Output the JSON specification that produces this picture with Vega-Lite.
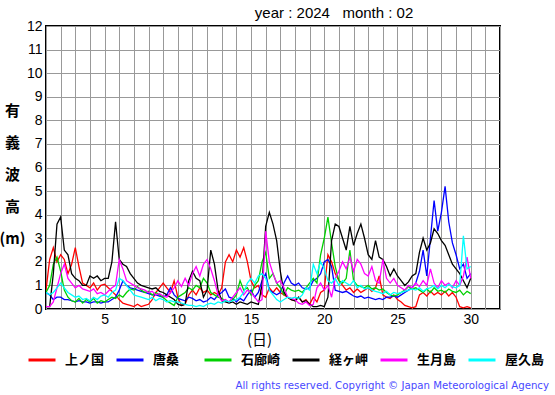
{
  "$schema": "https://vega.github.io/schema/vega-lite/v6.json",
  "width": 454,
  "height": 283,
  "autosize": {"type": "none"},
  "padding": {"left": 46, "top": 26, "right": 55, "bottom": 86},
  "background": "white",
  "config": {
    "view": {"stroke": "black", "strokeWidth": 2},
    "font": "Liberation Sans"
  },
  "title": {
    "text": "All rights reserved. Copyright © Japan Meteorological Agency",
    "orient": "bottom",
    "anchor": "end",
    "frame": "group",
    "dx": 49,
    "offset": 14,
    "font": "DejaVu Sans",
    "fontSize": 10.2,
    "fontWeight": "normal",
    "color": "#4848ff"
  },
  "data": {
    "values": [
      {"d":1.0,"上ノ国":0.8,"唐桑":0.7,"石廊崎":0.7,"経ヶ岬":0.1,"生月島":0.1,"屋久島":0.7},
      {"d":1.25,"上ノ国":2.1,"唐桑":0.6,"石廊崎":1.0,"経ヶ岬":0.1,"生月島":0.1,"屋久島":0.6},
      {"d":1.5,"上ノ国":2.6,"唐桑":0.4,"石廊崎":1.9,"経ヶ岬":1.5,"生月島":0.3,"屋久島":0.7},
      {"d":1.75,"上ノ国":2.0,"唐桑":0.5,"石廊崎":2.2,"経ヶ岬":3.6,"生月島":0.9,"屋久島":0.9},
      {"d":2.0,"上ノ国":2.3,"唐桑":0.5,"石廊崎":1.6,"経ヶ岬":3.9,"生月島":1.5,"屋久島":1.1},
      {"d":2.25,"上ノ国":2.1,"唐桑":0.4,"石廊崎":0.8,"経ヶ岬":2.5,"生月島":1.9,"屋久島":0.9},
      {"d":2.5,"上ノ国":1.5,"唐桑":0.4,"石廊崎":0.5,"経ヶ岬":2.3,"生月島":1.3,"屋久島":0.7},
      {"d":2.75,"上ノ国":1.9,"唐桑":0.35,"石廊崎":0.35,"経ヶ岬":1.5,"生月島":1.1,"屋久島":0.6},
      {"d":3.0,"上ノ国":2.6,"唐桑":0.3,"石廊崎":0.3,"経ヶ岬":1.3,"生月島":0.9,"屋久島":0.5},
      {"d":3.25,"上ノ国":1.8,"唐桑":0.35,"石廊崎":0.45,"経ヶ岬":1.2,"生月島":1.0,"屋久島":0.55},
      {"d":3.5,"上ノ国":1.1,"唐桑":0.3,"石廊崎":0.25,"経ヶ岬":1.0,"生月島":0.85,"屋久島":0.4},
      {"d":3.75,"上ノ国":1.0,"唐桑":0.3,"石廊崎":0.4,"経ヶ岬":1.0,"生月島":0.8,"屋久島":0.45},
      {"d":4.0,"上ノ国":0.9,"唐桑":0.25,"石廊崎":0.3,"経ヶ岬":1.4,"生月島":0.75,"屋久島":0.35},
      {"d":4.25,"上ノ国":1.1,"唐桑":0.3,"石廊崎":0.45,"経ヶ岬":1.3,"生月島":0.85,"屋久島":0.5},
      {"d":4.5,"上ノ国":0.8,"唐桑":0.3,"石廊崎":0.25,"経ヶ岬":1.4,"生月島":0.65,"屋久島":0.4},
      {"d":4.75,"上ノ国":1.0,"唐桑":0.25,"石廊崎":0.35,"経ヶ岬":1.2,"生月島":0.7,"屋久島":0.55},
      {"d":5.0,"上ノ国":1.05,"唐桑":0.3,"石廊崎":0.3,"経ヶ岬":1.3,"生月島":0.6,"屋久島":0.6},
      {"d":5.25,"上ノ国":0.9,"唐桑":0.3,"石廊崎":0.4,"経ヶ岬":1.3,"生月島":0.75,"屋久島":0.5},
      {"d":5.5,"上ノ国":0.75,"唐桑":0.4,"石廊崎":0.5,"経ヶ岬":2.0,"生月島":0.9,"屋久島":0.7},
      {"d":5.75,"上ノ国":0.6,"唐桑":0.5,"石廊崎":0.45,"経ヶ岬":3.7,"生月島":1.0,"屋久島":0.8},
      {"d":6.0,"上ノ国":0.4,"唐桑":0.8,"石廊崎":0.6,"経ヶ岬":2.1,"生月島":2.1,"屋久島":1.3},
      {"d":6.25,"上ノ国":0.25,"唐桑":1.2,"石廊崎":0.5,"経ヶ岬":1.9,"生月島":1.7,"屋久島":1.2},
      {"d":6.5,"上ノ国":0.2,"唐桑":1.0,"石廊崎":0.7,"経ヶ岬":1.8,"生月島":1.2,"屋久島":1.0},
      {"d":6.75,"上ノ国":0.15,"唐桑":0.9,"石廊崎":0.85,"経ヶ岬":1.5,"生月島":1.1,"屋久島":0.8},
      {"d":7.0,"上ノ国":0.1,"唐桑":0.85,"石廊崎":0.8,"経ヶ岬":1.3,"生月島":1.0,"屋久島":0.6},
      {"d":7.25,"上ノ国":0.2,"唐桑":0.8,"石廊崎":0.95,"経ヶ岬":1.1,"生月島":0.9,"屋久島":0.55},
      {"d":7.5,"上ノ国":0.1,"唐桑":0.75,"石廊崎":0.8,"経ヶ岬":1.0,"生月島":0.85,"屋久島":0.5},
      {"d":7.75,"上ノ国":0.15,"唐桑":0.7,"石廊崎":0.7,"経ヶ岬":0.95,"生月島":0.8,"屋久島":0.45},
      {"d":8.0,"上ノ国":0.2,"唐桑":0.65,"石廊崎":0.75,"経ヶ岬":0.9,"生月島":0.7,"屋久島":0.4},
      {"d":8.25,"上ノ国":0.4,"唐桑":0.6,"石廊崎":0.6,"経ヶ岬":0.85,"生月島":0.75,"屋久島":0.5},
      {"d":8.5,"上ノ国":0.7,"唐桑":0.6,"石廊崎":0.7,"経ヶ岬":0.9,"生月島":0.6,"屋久島":0.35},
      {"d":8.75,"上ノ国":0.9,"唐桑":0.55,"石廊崎":0.6,"経ヶ岬":0.75,"生月島":0.65,"屋久島":0.45},
      {"d":9.0,"上ノ国":1.1,"唐桑":0.5,"石廊崎":0.5,"経ヶ岬":0.7,"生月島":0.55,"屋久島":0.4},
      {"d":9.25,"上ノ国":0.9,"唐桑":0.6,"石廊崎":0.35,"経ヶ岬":0.6,"生月島":0.5,"屋久島":0.3},
      {"d":9.5,"上ノ国":0.7,"唐桑":0.9,"石廊崎":0.25,"経ヶ岬":0.5,"生月島":0.7,"屋久島":0.35},
      {"d":9.75,"上ノ国":1.2,"唐桑":0.6,"石廊崎":0.15,"経ヶ岬":0.4,"生月島":0.9,"屋久島":0.3},
      {"d":10.0,"上ノ国":0.5,"唐桑":0.45,"石廊崎":0.5,"経ヶ岬":0.2,"生月島":1.2,"屋久島":0.3},
      {"d":10.25,"上ノ国":0.15,"唐桑":0.4,"石廊崎":0.6,"経ヶ岬":0.15,"生月島":0.95,"屋久島":0.25},
      {"d":10.5,"上ノ国":0.2,"唐桑":0.35,"石廊崎":0.7,"経ヶ岬":0.2,"生月島":1.3,"屋久島":0.2},
      {"d":10.75,"上ノ国":0.6,"唐桑":0.5,"石廊崎":0.9,"経ヶ岬":1.2,"生月島":1.0,"屋久島":0.15},
      {"d":11.0,"上ノ国":0.8,"唐桑":0.45,"石廊崎":0.8,"経ヶ岬":1.6,"生月島":1.5,"屋久島":0.15},
      {"d":11.25,"上ノ国":0.6,"唐桑":0.35,"石廊崎":1.0,"経ヶ岬":1.3,"生月島":1.8,"屋久島":0.1},
      {"d":11.5,"上ノ国":0.9,"唐桑":0.4,"石廊崎":0.9,"経ヶ岬":1.2,"生月島":1.4,"屋久島":0.15},
      {"d":11.75,"上ノ国":0.7,"唐桑":0.3,"石廊崎":1.3,"経ヶ岬":0.5,"生月島":1.9,"屋久島":0.1},
      {"d":12.0,"上ノ国":0.8,"唐桑":0.35,"石廊崎":1.1,"経ヶ岬":0.8,"生月島":2.1,"屋久島":0.2},
      {"d":12.25,"上ノ国":0.6,"唐桑":0.5,"石廊崎":0.7,"経ヶ岬":2.5,"生月島":1.7,"屋久島":0.25},
      {"d":12.5,"上ノ国":0.7,"唐桑":0.4,"石廊崎":0.6,"経ヶ岬":1.9,"生月島":1.2,"屋久島":0.2},
      {"d":12.75,"上ノ国":0.6,"唐桑":0.6,"石廊崎":0.5,"経ヶ岬":0.8,"生月島":0.6,"屋久島":0.3},
      {"d":13.0,"上ノ国":0.9,"唐桑":0.7,"石廊崎":0.45,"経ヶ岬":0.35,"生月島":0.35,"屋久島":0.25},
      {"d":13.25,"上ノ国":2.0,"唐桑":0.85,"石廊崎":0.35,"経ヶ岬":0.3,"生月島":0.4,"屋久島":0.35},
      {"d":13.5,"上ノ国":2.3,"唐桑":0.5,"石廊崎":0.3,"経ヶ岬":0.25,"生月島":0.3,"屋久島":0.3},
      {"d":13.75,"上ノ国":2.0,"唐桑":0.45,"石廊崎":0.4,"経ヶ岬":0.3,"生月島":0.5,"屋久島":0.35},
      {"d":14.0,"上ノ国":2.5,"唐桑":0.3,"石廊崎":0.6,"経ヶ岬":0.2,"生月島":0.7,"屋久島":0.4},
      {"d":14.25,"上ノ国":2.2,"唐桑":0.45,"石廊崎":1.2,"経ヶ岬":0.3,"生月島":0.9,"屋久島":0.5},
      {"d":14.5,"上ノ国":2.6,"唐桑":0.35,"石廊崎":0.8,"経ヶ岬":0.25,"生月島":0.6,"屋久島":0.7},
      {"d":14.75,"上ノ国":2.0,"唐桑":0.6,"石廊崎":0.9,"経ヶ岬":0.2,"生月島":0.8,"屋久島":1.1},
      {"d":15.0,"上ノ国":1.2,"唐桑":0.8,"石廊崎":0.6,"経ヶ岬":0.3,"生月島":0.7,"屋久島":1.3},
      {"d":15.25,"上ノ国":0.9,"唐桑":0.5,"石廊崎":1.0,"経ヶ岬":0.25,"生月島":0.5,"屋久島":1.1},
      {"d":15.5,"上ノ国":1.0,"唐桑":0.7,"石廊崎":1.2,"経ヶ岬":0.2,"生月島":0.3,"屋久島":1.4},
      {"d":15.75,"上ノ国":0.6,"唐桑":1.2,"石廊崎":2.0,"経ヶ岬":1.0,"生月島":0.4,"屋久島":1.5},
      {"d":16.0,"上ノ国":0.5,"唐桑":1.5,"石廊崎":2.4,"経ヶ岬":3.5,"生月島":3.3,"屋久島":1.3},
      {"d":16.25,"上ノ国":0.9,"唐桑":0.8,"石廊崎":1.3,"経ヶ岬":4.1,"生月島":2.0,"屋久島":0.8},
      {"d":16.5,"上ノ国":0.7,"唐桑":0.7,"石廊崎":1.5,"経ヶ岬":3.6,"生月島":1.5,"屋久島":0.6},
      {"d":16.75,"上ノ国":0.9,"唐桑":0.6,"石廊崎":1.1,"経ヶ岬":2.9,"生月島":1.1,"屋久島":0.4},
      {"d":17.0,"上ノ国":0.7,"唐桑":0.7,"石廊崎":0.9,"経ヶ岬":1.6,"生月島":1.2,"屋久島":0.3},
      {"d":17.25,"上ノ国":0.6,"唐桑":1.1,"石廊崎":0.6,"経ヶ岬":0.7,"生月島":0.9,"屋久島":0.4},
      {"d":17.5,"上ノ国":0.5,"唐桑":1.4,"石廊崎":0.9,"経ヶ岬":0.5,"生月島":0.5,"屋久島":0.5},
      {"d":17.75,"上ノ国":0.4,"唐桑":1.1,"石廊崎":0.8,"経ヶ岬":0.4,"生月島":0.45,"屋久島":0.45},
      {"d":18.0,"上ノ国":0.35,"唐桑":1.0,"石廊崎":0.75,"経ヶ岬":0.35,"生月島":0.4,"屋久島":0.5},
      {"d":18.25,"上ノ国":0.5,"唐桑":1.1,"石廊崎":0.8,"経ヶ岬":0.5,"生月島":0.25,"屋久島":0.45},
      {"d":18.5,"上ノ国":0.3,"唐桑":0.9,"石廊崎":0.7,"経ヶ岬":0.3,"生月島":0.2,"屋久島":0.6},
      {"d":18.75,"上ノ国":0.4,"唐桑":0.85,"石廊崎":0.9,"経ヶ岬":0.35,"生月島":0.3,"屋久島":0.9},
      {"d":19.0,"上ノ国":0.2,"唐桑":0.9,"石廊崎":1.1,"経ヶ岬":0.2,"生月島":0.15,"屋久島":0.8},
      {"d":19.25,"上ノ国":0.5,"唐桑":1.2,"石廊崎":1.3,"経ヶ岬":0.1,"生月島":0.2,"屋久島":1.9},
      {"d":19.5,"上ノ国":0.3,"唐桑":1.3,"石廊崎":1.1,"経ヶ岬":0.1,"生月島":0.9,"屋久島":1.5},
      {"d":19.75,"上ノ国":0.7,"唐桑":1.5,"石廊崎":2.3,"経ヶ岬":0.15,"生月島":1.1,"屋久島":2.0},
      {"d":20.0,"上ノ国":0.8,"唐桑":2.0,"石廊崎":3.0,"経ヶ岬":0.1,"生月島":0.8,"屋久島":1.7},
      {"d":20.25,"上ノ国":2.3,"唐桑":2.1,"石廊崎":3.9,"経ヶ岬":0.5,"生月島":1.0,"屋久島":1.2},
      {"d":20.5,"上ノ国":2.0,"唐桑":1.8,"石廊崎":2.8,"経ヶ岬":2.9,"生月島":0.5,"屋久島":1.1},
      {"d":20.75,"上ノ国":1.5,"唐桑":0.8,"石廊崎":1.8,"経ヶ岬":3.6,"生月島":1.3,"屋久島":1.3},
      {"d":21.0,"上ノ国":1.2,"唐桑":0.75,"石廊崎":1.2,"経ヶ岬":3.5,"生月島":1.6,"屋久島":1.0},
      {"d":21.25,"上ノ国":1.0,"唐桑":0.7,"石廊崎":1.1,"経ヶ岬":3.0,"生月島":2.0,"屋久島":1.2},
      {"d":21.5,"上ノ国":0.8,"唐桑":0.75,"石廊崎":1.3,"経ヶ岬":2.5,"生月島":1.7,"屋久島":1.1},
      {"d":21.75,"上ノ国":0.9,"唐桑":0.65,"石廊崎":2.5,"経ヶ岬":3.5,"生月島":2.2,"屋久島":1.0},
      {"d":22.0,"上ノ国":0.7,"唐桑":0.55,"石廊崎":1.2,"経ヶ岬":2.7,"生月島":1.6,"屋久島":1.2},
      {"d":22.25,"上ノ国":0.85,"唐桑":0.5,"石廊崎":1.0,"経ヶ岬":3.2,"生月島":2.1,"屋久島":0.9},
      {"d":22.5,"上ノ国":0.7,"唐桑":0.55,"石廊崎":0.95,"経ヶ岬":3.6,"生月島":1.9,"屋久島":1.0},
      {"d":22.75,"上ノ国":0.8,"唐桑":0.45,"石廊崎":0.9,"経ヶ岬":3.0,"生月島":1.5,"屋久島":0.85},
      {"d":23.0,"上ノ国":0.9,"唐桑":0.5,"石廊崎":1.0,"経ヶ岬":2.3,"生月島":1.4,"屋久島":0.9},
      {"d":23.25,"上ノ国":0.75,"唐桑":0.45,"石廊崎":0.85,"経ヶ岬":2.1,"生月島":1.8,"屋久島":0.8},
      {"d":23.5,"上ノ国":0.9,"唐桑":0.4,"石廊崎":0.9,"経ヶ岬":2.9,"生月島":1.2,"屋久島":0.75},
      {"d":23.75,"上ノ国":1.4,"唐桑":0.45,"石廊崎":0.8,"経ヶ岬":2.2,"生月島":1.1,"屋久島":0.7},
      {"d":24.0,"上ノ国":0.6,"唐桑":0.4,"石廊崎":0.85,"経ヶ岬":2.1,"生月島":2.1,"屋久島":0.65},
      {"d":24.25,"上ノ国":0.5,"唐桑":0.5,"石廊崎":0.7,"経ヶ岬":1.8,"生月島":1.3,"屋久島":0.75},
      {"d":24.5,"上ノ国":0.45,"唐桑":0.5,"石廊崎":0.6,"経ヶ岬":1.4,"生月島":1.1,"屋久島":0.6},
      {"d":24.75,"上ノ国":0.6,"唐桑":0.55,"石廊崎":0.55,"経ヶ岬":1.7,"生月島":1.3,"屋久島":0.7},
      {"d":25.0,"上ノ国":0.4,"唐桑":0.5,"石廊崎":0.6,"経ヶ岬":1.4,"生月島":1.0,"屋久島":0.65},
      {"d":25.25,"上ノ国":0.3,"唐桑":0.6,"石廊崎":0.7,"経ヶ岬":1.2,"生月島":0.9,"屋久島":0.7},
      {"d":25.5,"上ノ国":0.15,"唐桑":0.7,"石廊崎":0.8,"経ヶ岬":1.0,"生月島":0.8,"屋久島":0.75},
      {"d":25.75,"上ノ国":0.1,"唐桑":0.8,"石廊崎":0.95,"経ヶ岬":1.15,"生月島":1.0,"屋久島":0.8},
      {"d":26.0,"上ノ国":0.05,"唐桑":0.9,"石廊崎":0.85,"経ヶ岬":1.4,"生月島":0.9,"屋久島":0.85},
      {"d":26.25,"上ノ国":0.1,"唐桑":1.1,"石廊崎":0.9,"経ヶ岬":1.5,"生月島":1.1,"屋久島":0.8},
      {"d":26.5,"上ノ国":0.6,"唐桑":1.6,"石廊崎":0.8,"経ヶ岬":2.4,"生月島":0.95,"屋久島":0.9},
      {"d":26.75,"上ノ国":0.7,"唐桑":2.5,"石廊崎":0.7,"経ヶ岬":3.0,"生月島":1.2,"屋久島":0.75},
      {"d":27.0,"上ノ国":0.55,"唐桑":1.4,"石廊崎":0.85,"経ヶ岬":2.5,"生月島":1.0,"屋久島":0.85},
      {"d":27.25,"上ノ国":0.75,"唐桑":3.0,"石廊崎":0.7,"経ヶ岬":2.8,"生月島":1.7,"屋久島":0.9},
      {"d":27.5,"上ノ国":0.6,"唐桑":4.6,"石廊崎":0.9,"経ヶ岬":3.4,"生月島":1.1,"屋久島":1.0},
      {"d":27.75,"上ノ国":0.7,"唐桑":3.3,"石廊崎":0.75,"経ヶ岬":3.2,"生月島":0.9,"屋久島":0.85},
      {"d":28.0,"上ノ国":0.6,"唐桑":4.1,"石廊崎":0.8,"経ヶ岬":2.9,"生月島":1.2,"屋久島":1.0},
      {"d":28.25,"上ノ国":0.75,"唐桑":5.2,"石廊崎":0.7,"経ヶ岬":2.7,"生月島":1.0,"屋久島":0.9},
      {"d":28.5,"上ノ国":0.55,"唐桑":3.7,"石廊崎":0.85,"経ヶ岬":2.3,"生月島":1.1,"屋久島":1.05},
      {"d":28.75,"上ノ国":0.7,"唐桑":2.8,"石廊崎":0.75,"経ヶ岬":1.9,"生月島":0.9,"屋久島":0.95},
      {"d":29.0,"上ノ国":0.5,"唐桑":2.3,"石廊崎":0.7,"経ヶ岬":1.7,"生月島":1.2,"屋久島":0.9},
      {"d":29.25,"上ノ国":0.1,"唐桑":1.7,"石廊崎":0.8,"経ヶ岬":1.5,"生月島":1.0,"屋久島":1.0},
      {"d":29.5,"上ノ国":0.05,"唐桑":1.9,"石廊崎":0.6,"経ヶ岬":1.2,"生月島":1.4,"屋久島":3.1},
      {"d":29.75,"上ノ国":0.1,"唐桑":1.3,"石廊崎":0.75,"経ヶ岬":0.9,"生月島":2.2,"屋久島":1.7},
      {"d":30.0,"上ノ国":0.05,"唐桑":1.5,"石廊崎":0.65,"経ヶ岬":1.3,"生月島":1.3,"屋久島":1.8}
    ]
  },
  "layer": [
    {
      "transform": [
        {"fold": ["上ノ国", "唐桑", "石廊崎", "経ヶ岬", "生月島", "屋久島"], "as": ["station", "h"]}
      ],
      "mark": {"type": "line", "strokeWidth": 1.3, "clip": true},
      "encoding": {
        "x": {
          "field": "d",
          "type": "quantitative",
          "scale": {"domain": [1, 32], "nice": false, "zero": false},
          "axis": {
            "values": [1,2,3,4,5,6,7,8,9,10,11,12,13,14,15,16,17,18,19,20,21,22,23,24,25,26,27,28,29,30,31,32],
            "tickCount": 100,
            "format": "d",
            "labelExpr": "datum.value % 5 === 0 ? datum.label : ''",
            "grid": true,
            "gridColor": "#999999",
            "gridWidth": 1,
            "domain": false,
            "ticks": false,
            "labelFontSize": 14,
            "labelColor": "black",
            "labelPadding": 3,
            "labelFlush": false,
            "labelOverlap": false,
            "title": "(日)",
            "titleFont": "Noto Sans CJK JP",
            "titleFontSize": 15,
            "titleFontWeight": "normal",
            "titleX": 213,
            "titleY": 30,
            "titleAlign": "center",
            "titleBaseline": "middle"
          }
        },
        "y": {
          "field": "h",
          "type": "quantitative",
          "scale": {"domain": [0, 12], "nice": false},
          "axis": {
            "values": [0,1,2,3,4,5,6,7,8,9,10,11,12],
            "tickCount": 100,
            "format": "d",
            "grid": true,
            "gridColor": "#999999",
            "gridWidth": 1,
            "domain": false,
            "ticks": false,
            "labelFontSize": 14,
            "labelColor": "black",
            "labelPadding": 4,
            "labelFlush": false,
            "labelOverlap": false,
            "title": ["有", "義", "波", "高", "(m)"],
            "titleFont": "Noto Sans CJK JP",
            "titleFontSize": 15,
            "titleFontWeight": "bold",
            "titleAngle": 0,
            "titleAlign": "center",
            "titleBaseline": "middle",
            "titleLineHeight": 32,
            "titleX": -34,
            "titleY": 84
          }
        },
        "color": {
          "field": "station",
          "type": "nominal",
          "scale": {
            "domain": ["上ノ国", "唐桑", "石廊崎", "経ヶ岬", "生月島", "屋久島"],
            "range": ["#ff0000", "#0000ff", "#00d000", "#000000", "#ff00ff", "#00ffff"]
          },
          "legend": {
            "orient": "none",
            "legendX": -19,
            "legendY": 319,
            "direction": "horizontal",
            "columns": 6,
            "gridAlign": "all",
            "columnPadding": 5,
            "padding": 0,
            "title": null,
            "symbolType": "stroke",
            "symbolSize": 729,
            "symbolStrokeWidth": 3,
            "labelOffset": 8,
            "labelFont": "Noto Sans CJK JP",
            "labelFontSize": 13,
            "labelFontWeight": "bold",
            "labelColor": "black"
          }
        }
      }
    },
    {
      "data": {"values": [{"label": "year : 2024\u00a0\u00a0\u00a0month : 02"}]},
      "mark": {"type": "text", "fontSize": 15, "align": "center", "baseline": "alphabetic", "dy": -8, "color": "black", "clip": false},
      "encoding": {
        "x": {"datum": 20.67, "type": "quantitative"},
        "y": {"datum": 12, "type": "quantitative"},
        "text": {"field": "label"}
      }
    }
  ]
}
